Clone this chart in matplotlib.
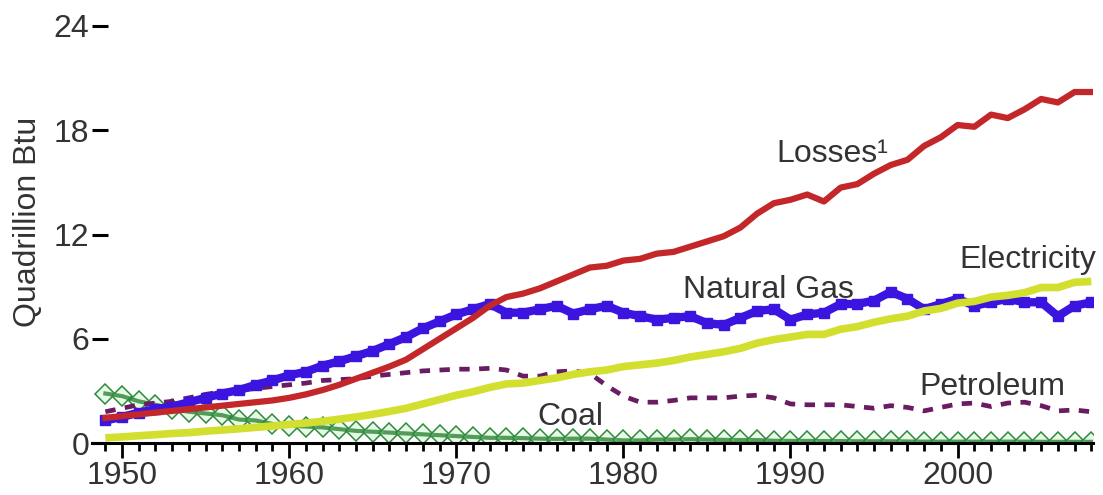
import numpy as np
import matplotlib
matplotlib.use("Agg")
import matplotlib.pyplot as plt

plt.rcParams['font.family'] = ['Liberation Sans', 'DejaVu Sans']

# data, quadrillion Btu
years = list(range(1949, 2009))

losses = [1.45, 1.55, 1.65, 1.75, 1.85, 1.95, 2.05, 2.15, 2.25, 2.35,
          2.45, 2.6, 2.8, 3.05, 3.35, 3.7, 4.05, 4.4, 4.8, 5.4,
          6.0, 6.6, 7.2, 7.9, 8.4, 8.6, 8.9, 9.3, 9.7, 10.1,
          10.2, 10.5, 10.6, 10.9, 11.0, 11.3, 11.6, 11.9, 12.4, 13.2,
          13.8, 14.0, 14.3, 13.9, 14.7, 14.9, 15.5, 16.0, 16.3, 17.1,
          17.6, 18.3, 18.2, 18.9, 18.7, 19.2, 19.8, 19.6, 20.2, 20.2]

natural_gas = [1.3, 1.5, 1.75, 1.95, 2.1, 2.35, 2.6, 2.85, 3.05, 3.35,
               3.6, 3.9, 4.1, 4.45, 4.7, 5.0, 5.3, 5.7, 6.1, 6.6,
               7.0, 7.4, 7.7, 8.0, 7.5, 7.5, 7.7, 7.9, 7.45, 7.7,
               7.9, 7.5, 7.3, 7.1, 7.2, 7.3, 6.9, 6.8, 7.2, 7.6,
               7.7, 7.1, 7.4, 7.5, 8.0, 8.0, 8.2, 8.7, 8.3, 7.7,
               8.0, 8.3, 7.9, 8.1, 8.3, 8.1, 8.1, 7.3, 7.9, 8.1]

electricity = [0.3, 0.35, 0.42, 0.48, 0.55, 0.6, 0.68, 0.75, 0.82, 0.9,
               0.98, 1.07, 1.15, 1.25, 1.37, 1.5, 1.65, 1.82, 2.0, 2.25,
               2.5, 2.75, 2.95, 3.2, 3.4, 3.45, 3.6, 3.75, 3.95, 4.1,
               4.2, 4.4, 4.5, 4.6, 4.75, 4.95, 5.1, 5.25, 5.45, 5.75,
               5.95, 6.1, 6.25, 6.25, 6.55, 6.7, 6.95, 7.15, 7.3, 7.6,
               7.75, 8.05, 8.15, 8.4, 8.5, 8.65, 8.95, 8.95, 9.25, 9.3]

petroleum = [1.8, 2.0, 2.2, 2.3, 2.4, 2.6, 2.8, 2.95, 3.0, 3.15,
             3.25, 3.35, 3.45, 3.6, 3.65, 3.7, 3.85, 3.95, 4.05, 4.15,
             4.2, 4.25, 4.25, 4.3, 4.2, 3.85, 3.85, 4.1, 4.15, 4.0,
             3.3, 2.7, 2.35, 2.35, 2.45, 2.6, 2.6, 2.6, 2.7, 2.75,
             2.6, 2.25, 2.2, 2.2, 2.2, 2.1, 2.0, 2.15, 2.05, 1.85,
             2.05, 2.25, 2.3, 2.1, 2.3, 2.35, 2.15, 1.85, 1.9, 1.8]

coal = [2.85, 2.7, 2.4, 2.2, 1.95, 1.8, 1.7, 1.6, 1.35, 1.3,
        1.1, 1.0, 0.95, 0.9, 0.8, 0.7, 0.65, 0.6, 0.55, 0.5,
        0.45, 0.4, 0.35, 0.3, 0.3, 0.28, 0.25, 0.24, 0.25, 0.25,
        0.2, 0.15, 0.15, 0.2, 0.2, 0.22, 0.2, 0.18, 0.17, 0.17,
        0.13, 0.12, 0.12, 0.11, 0.11, 0.1, 0.1, 0.1, 0.09, 0.08,
        0.08, 0.08, 0.08, 0.08, 0.08, 0.08, 0.07, 0.07, 0.07, 0.07]

text_color = "#333333"

fig = plt.figure(figsize=(11.03, 4.95), dpi=100)
ax = fig.add_axes([0.0834, 0.105, 0.9075, 0.8425])

# coal: dark green line with overlapping hollow diamonds
ax.plot(years, coal, color="#1a6e25", lw=3.0, marker="D", ms=10.5,
        mfc=(0.72, 0.95, 0.72, 0.35), mec="#2f8a3e", mew=1.1, zorder=2)
# petroleum: purple dashed
ax.plot(years, petroleum, color="#6a1c62", lw=3.4, ls=(0, (2.2, 2.0)), zorder=3)
# natural gas: thick blue with small square texture
ax.plot(years, natural_gas, color="#3b14e0", lw=6.0, marker="s", ms=6.5,
        mec="#3b14e0", zorder=4)
# electricity: yellow-green
ax.plot(years, electricity, color="#d3df2e", lw=5.5, solid_capstyle="butt", zorder=5)
# losses: dark red
ax.plot(years, losses, color="#c3272a", lw=4.5, zorder=6)

ax.set_xlim(1948.2, 2008.1)
ax.set_ylim(0, 24)

for side in ["top", "right", "left"]:
    ax.spines[side].set_visible(False)
ax.spines["bottom"].set_linewidth(2.2)
ax.spines["bottom"].set_zorder(7)

ax.set_yticks([0, 6, 12, 18, 24])
ax.tick_params(axis="y", direction="in", length=11.5, width=2.2, pad=2,
               labelsize=23, labelcolor=text_color)
ax.set_xticks(range(1950, 2001, 10))
ax.set_xticks(years, minor=True)
ax.tick_params(axis="x", which="major", direction="out", length=11, width=2.0,
               pad=2, labelsize=23, labelcolor=text_color)
ax.tick_params(axis="x", which="minor", direction="out", length=6, width=2.0)

fig.text(28 / 1103, 1 - 222 / 495, "Quadrillion Btu", rotation=90,
         ha="center", va="center", fontsize=23, color=text_color)

lbl = dict(fontsize=23, color=text_color, ha="center", va="baseline", clip_on=False)
ax.text(1992.5, 16.18, "Losses\u00b9", **lbl)
ax.text(2004.2, 10.07, "Electricity", **lbl)
ax.text(1988.7, 8.35, "Natural Gas", **lbl)
ax.text(2002.1, 2.76, "Petroleum", **lbl)
ax.text(1976.8, 1.04, "Coal", **lbl)

fig.savefig("out.png", dpi=100)
